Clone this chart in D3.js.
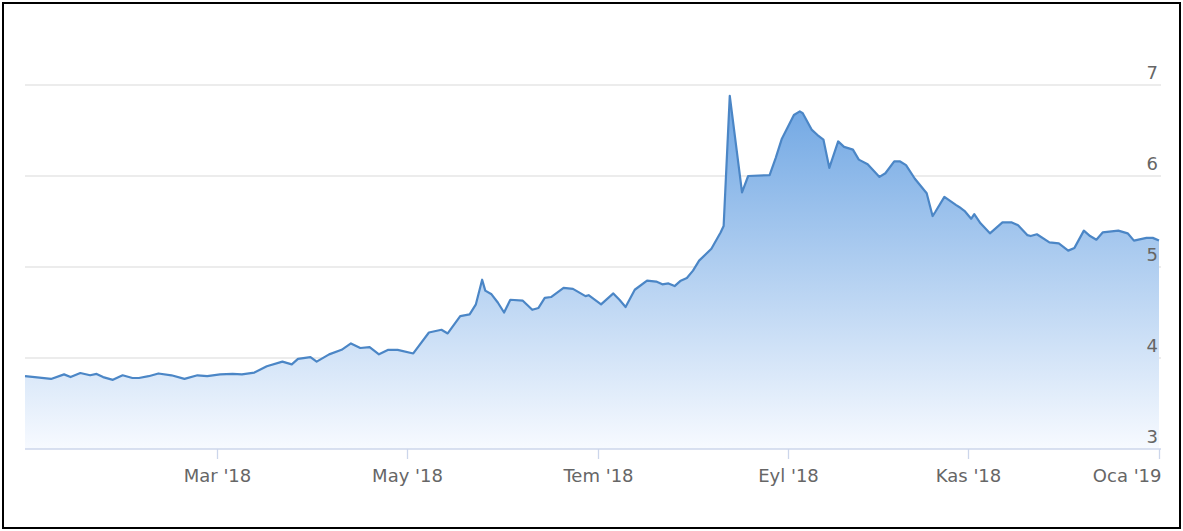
<!DOCTYPE html>
<html>
<head>
<meta charset="utf-8">
<script src="https://cdn.jsdelivr.net/npm/d3@7"></script>
<style>
  body { margin: 0; background: #fff; }
  text { font-family: "DejaVu Sans", sans-serif; }
</style>
</head>
<body>
<div id="chart"></div>
<script>
// USD/TRY style series
var dates = ["2018-01-01","2018-01-04","2018-01-09","2018-01-13","2018-01-15","2018-01-18","2018-01-21","2018-01-23","2018-01-25","2018-01-28",
  "2018-01-31","2018-02-03","2018-02-05","2018-02-08","2018-02-11","2018-02-15","2018-02-19","2018-02-23","2018-02-26","2018-03-02",
  "2018-03-06","2018-03-09","2018-03-13","2018-03-17","2018-03-22","2018-03-25","2018-03-27","2018-03-31","2018-04-02","2018-04-06",
  "2018-04-10","2018-04-13","2018-04-16","2018-04-19","2018-04-22","2018-04-25","2018-04-28","2018-05-03","2018-05-08","2018-05-12",
  "2018-05-14","2018-05-18","2018-05-21","2018-05-23","2018-05-25","2018-05-26","2018-05-28","2018-05-30","2018-06-01","2018-06-03",
  "2018-06-07","2018-06-10","2018-06-12","2018-06-14","2018-06-16","2018-06-20","2018-06-23","2018-06-27","2018-06-28","2018-07-02",
  "2018-07-06","2018-07-08","2018-07-10","2018-07-13","2018-07-17","2018-07-20","2018-07-22","2018-07-24","2018-07-26","2018-07-28",
  "2018-07-30","2018-08-01","2018-08-03","2018-08-07","2018-08-10","2018-08-11","2018-08-13","2018-08-17","2018-08-19","2018-08-26",
  "2018-08-28","2018-08-30","2018-09-03","2018-09-05","2018-09-06","2018-09-09","2018-09-11","2018-09-13","2018-09-15","2018-09-18",
  "2018-09-20","2018-09-23","2018-09-25","2018-09-28","2018-10-02","2018-10-04","2018-10-07","2018-10-09","2018-10-11","2018-10-14",
  "2018-10-18","2018-10-20","2018-10-21","2018-10-24","2018-10-28","2018-10-29","2018-10-31","2018-11-02","2018-11-03","2018-11-05",
  "2018-11-08","2018-11-12","2018-11-15","2018-11-17","2018-11-20","2018-11-21","2018-11-23","2018-11-27","2018-11-30","2018-12-03",
  "2018-12-05","2018-12-08","2018-12-10","2018-12-12","2018-12-14","2018-12-19","2018-12-22","2018-12-24","2018-12-28","2018-12-30",
  "2019-01-01"];
var values = [3.80,3.79,3.77,3.82,3.79,3.835,3.81,3.825,3.79,3.76,
  3.81,3.78,3.78,3.80,3.83,3.81,3.77,3.81,3.80,3.82,
  3.825,3.82,3.84,3.91,3.96,3.93,3.99,4.01,3.96,4.04,
  4.09,4.16,4.11,4.12,4.04,4.09,4.09,4.05,4.28,4.31,
  4.27,4.46,4.48,4.59,4.86,4.74,4.70,4.61,4.50,4.64,
  4.63,4.53,4.55,4.66,4.67,4.77,4.76,4.68,4.69,4.59,
  4.71,4.64,4.56,4.75,4.85,4.84,4.81,4.82,4.79,4.85,
  4.88,4.96,5.07,5.20,5.38,5.45,6.88,5.82,6.00,6.01,
  6.20,6.41,6.67,6.71,6.69,6.51,6.45,6.40,6.09,6.38,
  6.32,6.29,6.18,6.13,5.99,6.03,6.16,6.16,6.12,5.97,
  5.81,5.56,5.61,5.77,5.68,5.66,5.61,5.53,5.58,5.48,
  5.37,5.49,5.49,5.46,5.35,5.34,5.36,5.27,5.26,5.18,
  5.21,5.40,5.34,5.30,5.38,5.40,5.37,5.29,5.32,5.32,
  5.29];

var tickDates = ["2018-03-01","2018-05-01","2018-07-01","2018-09-01","2018-11-01","2019-01-01"];
var tickLabels = ["Mar '18","May '18","Tem '18","Eyl '18","Kas '18","Oca '19"];
var yTicks = [3,4,5,6,7];

var W = 1183, H = 531;
var parse = d3.timeParse("%Y-%m-%d");

var data = dates.map(function(d, i) { return { date: parse(d), value: values[i] }; });

var svg = d3.select("#chart").append("svg")
  .attr("width", W)
  .attr("height", H);

// outer frame
svg.append("rect")
  .attr("x", 3).attr("y", 3)
  .attr("width", W - 6).attr("height", H - 6)
  .attr("fill", "none")
  .attr("stroke", "#000")
  .attr("stroke-width", 2);

// axis is slightly uneven between months in the original, so pin month starts
var x = d3.scaleTime()
  .domain([parse("2018-01-01")].concat(tickDates.map(parse)))
  .range([25, 217, 407, 598, 788, 968, 1159]);

var y = d3.scaleLinear()
  .domain([3, 7])
  .range([449, 85]);

var defs = svg.append("defs");
var grad = defs.append("linearGradient")
  .attr("id", "fillGrad")
  .attr("gradientUnits", "userSpaceOnUse")
  .attr("x1", 0).attr("x2", 0)
  .attr("y1", y(7)).attr("y2", y(3));
grad.append("stop").attr("offset", "0%").attr("stop-color", "#6aa3e2");
grad.append("stop").attr("offset", "100%").attr("stop-color", "#f7faff");

// horizontal grid
svg.append("g")
  .selectAll("line")
  .data(yTicks.filter(function(d) { return d > 3; }))
  .enter().append("line")
    .attr("x1", 25)
    .attr("x2", 1161)
    .attr("y1", function(d) { return y(d); })
    .attr("y2", function(d) { return y(d); })
    .attr("stroke", "#e6e6e6")
    .attr("stroke-width", 1.3);

var area = d3.area()
  .x(function(d) { return x(d.date); })
  .y0(y(3))
  .y1(function(d) { return y(d.value); });

var line = d3.line()
  .x(function(d) { return x(d.date); })
  .y(function(d) { return y(d.value); });

svg.append("path")
  .datum(data)
  .attr("d", area)
  .attr("fill", "url(#fillGrad)");

svg.append("path")
  .datum(data)
  .attr("d", line)
  .attr("fill", "none")
  .attr("stroke", "#4b86c6")
  .attr("stroke-width", 2.2)
  .attr("stroke-linejoin", "round");

// x axis
var xAxis = d3.axisBottom(x)
  .tickValues(tickDates.map(parse))
  .tickFormat(function(d, i) { return tickLabels[i]; })
  .tickSize(10)
  .tickSizeOuter(0);

var gx = svg.append("g")
  .attr("transform", "translate(0," + y(3) + ")")
  .call(xAxis);
gx.select(".domain").attr("stroke", "#ccd6eb").attr("stroke-width", 1.3)
  .attr("d", "M25,0H1161");
gx.selectAll(".tick line").attr("stroke", "#ccd6eb").attr("stroke-width", 1.3);
gx.selectAll(".tick text")
  .attr("y", 20)
  .attr("fill", "#666")
  .style("font-size", "18px")
  .style("font-family", "'DejaVu Sans', sans-serif");
gx.selectAll(".tick").filter(function(d, i) { return i === tickLabels.length - 1; })
  .select("text").attr("text-anchor", "end").attr("x", 2);

// y labels on the right, sitting above the grid lines
var yAxis = d3.axisRight(y)
  .tickValues(yTicks)
  .tickSize(0)
  .tickFormat(d3.format("d"));

var gy = svg.append("g")
  .attr("transform", "translate(1158,0)")
  .call(yAxis);
gy.select(".domain").remove();
gy.selectAll(".tick text")
  .attr("x", 0)
  .attr("dy", "-0.35em")
  .attr("text-anchor", "end")
  .attr("fill", "#666")
  .style("font-size", "18px")
  .style("font-family", "'DejaVu Sans', sans-serif");
</script>
</body>
</html>
